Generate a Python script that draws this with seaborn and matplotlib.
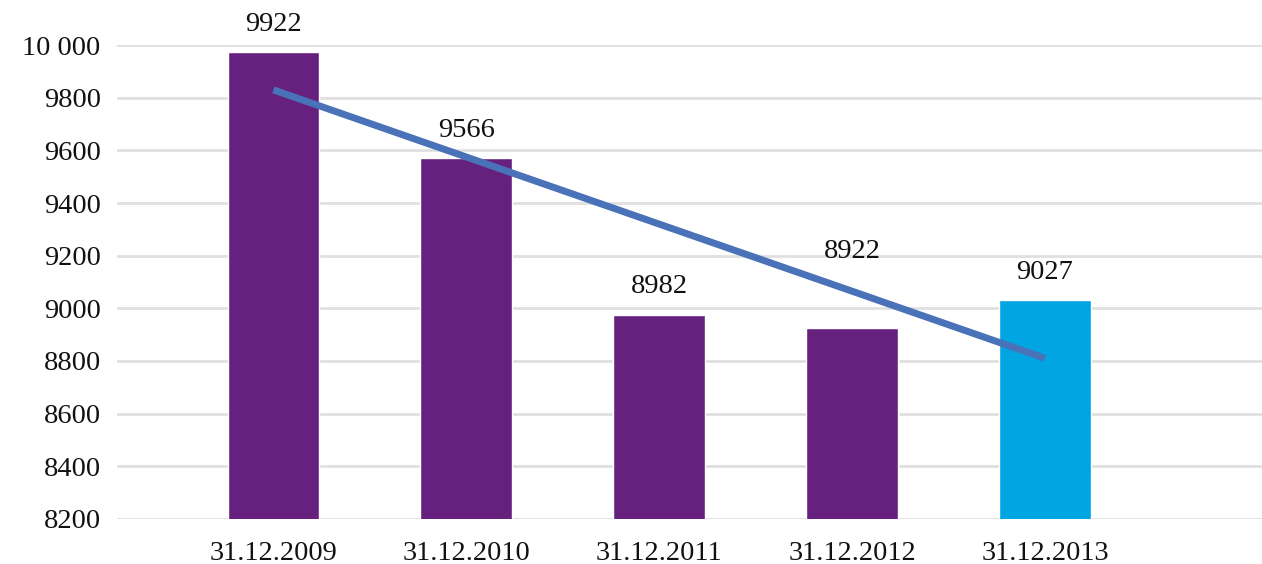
import matplotlib
matplotlib.use("Agg")
import matplotlib.pyplot as plt
import seaborn as sns
import pandas as pd

categories = ["31.12.2009", "31.12.2010", "31.12.2011", "31.12.2012", "31.12.2013"]
bar_heights = [9972, 9570, 8975, 8925, 9030]
value_labels = ["9922", "9566", "8982", "8922", "9027"]
trend_x = [0, 4]
trend_y = [9830, 8810]
y_ticks = [8200, 8400, 8600, 8800, 9000, 9200, 9400, 9600, 9800, 10000]
y_tick_labels = ["8200", "8400", "8600", "8800", "9000", "9200", "9400", "9600", "9800", "10 000"]
bar_colors = ["#66217f", "#66217f", "#66217f", "#66217f", "#00a5e1"]
label_offsets = [60, 60, 60, 245, 60]

sns.set_theme(style="white")
plt.rcParams["font.family"] = ["Liberation Serif", "DejaVu Serif"]

df = pd.DataFrame({"date": categories, "value": bar_heights})

fig = plt.figure(figsize=(12.62, 5.64), dpi=100)
ax = fig.add_axes([0.093, 0.080, 0.907, 0.840])

sns.barplot(data=df, x="date", y="value", hue="date", palette=bar_colors,
            width=0.475, legend=False, ax=ax, saturation=1, zorder=2)
ax.plot(trend_x, trend_y, color="#4a72b9", linewidth=5, solid_capstyle="butt", zorder=3)

fs = 20.5
for i, (h, lab, off) in enumerate(zip(bar_heights, value_labels, label_offsets)):
    ax.text(i, h + off, lab, ha="center", va="bottom", fontsize=fs, color="#111111", clip_on=False)

ax.set_ylim(8200, 10000)
ax.set_xlim(-0.809, 5.125)
ax.set_yticks(y_ticks)
ax.set_yticklabels(y_tick_labels, fontsize=fs, color="#111111")
ax.tick_params(axis="x", labelsize=fs, colors="#111111", length=0, pad=16)
ax.tick_params(axis="y", length=0, pad=12)
ax.yaxis.grid(True, color="#e0e0e0", linewidth=2, zorder=0)
ax.set_axisbelow(True)
ax.set_xlabel("")
ax.set_ylabel("")
for s in ax.spines.values():
    s.set_visible(False)

fig.savefig("out.png", dpi=100)
